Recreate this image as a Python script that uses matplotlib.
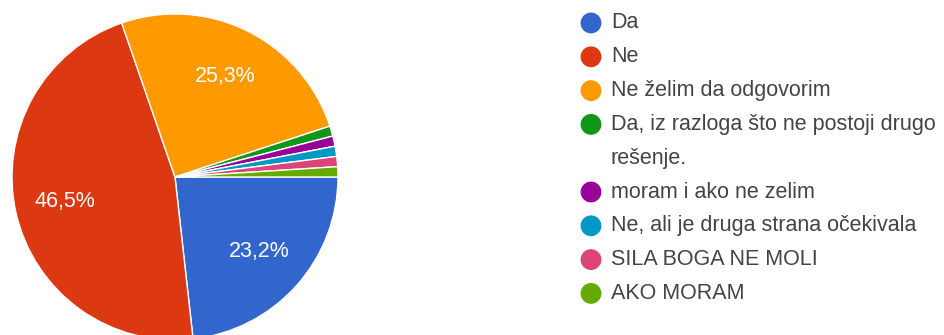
import matplotlib
matplotlib.use("Agg")
import matplotlib.pyplot as plt

# responses per answer (99 total)
labels = [
    "Da",
    "Ne",
    "Ne želim da odgovorim",
    "Da, iz razloga što ne postoji drugo\nrešenje.",
    "moram i ako ne zelim",
    "Ne, ali je druga strana očekivala",
    "SILA BOGA NE MOLI",
    "AKO MORAM",
]
counts = [23, 46, 25, 1, 1, 1, 1, 1]
colors = ["#3366CC", "#DC3912", "#FF9900", "#109618",
          "#990099", "#0099C6", "#DD4477", "#66AA00"]

plt.rcParams["font.family"] = ["Liberation Sans", "DejaVu Sans"]

W, H = 944, 335
fig = plt.figure(figsize=(W / 100, H / 100), dpi=100)
fig.patch.set_facecolor("white")

# pie: centre (175, 177) px, radius 163 px
cx, cy, r = 175, 177, 163
ax = fig.add_axes([(cx - r) / W, (H - cy - r) / H, 2 * r / W, 2 * r / H])


def fmt(p):
    if p < 5:
        return ""
    return f"{p:.1f}%".replace(".", ",")


wedges, texts, autotexts = ax.pie(
    counts, colors=colors, startangle=0, counterclock=False,
    autopct=fmt, pctdistance=0.69,
    wedgeprops=dict(edgecolor="white", linewidth=1),
    textprops=dict(color="white", fontsize=15.5),
)
ax.set_xlim(-1, 1)
ax.set_ylim(-1, 1)
ax.set_aspect("auto")
ax.axis("off")

# legend drawn in pixel coordinates
lax = fig.add_axes([0, 0, 1, 1])
lax.set_xlim(0, W)
lax.set_ylim(H, 0)
lax.axis("off")
lax.patch.set_alpha(0)

row = 33.8
y = 23
for lab, col in zip(labels, colors):
    lax.scatter([591], [y], s=225, color=col, edgecolors="none")
    lines = lab.split("\n")
    for k, line in enumerate(lines):
        lax.text(611, y + k * row, line, va="center", ha="left",
                 fontsize=15.5, color="#444444")
    y += row * len(lines)

fig.savefig("out.png", dpi=100)
